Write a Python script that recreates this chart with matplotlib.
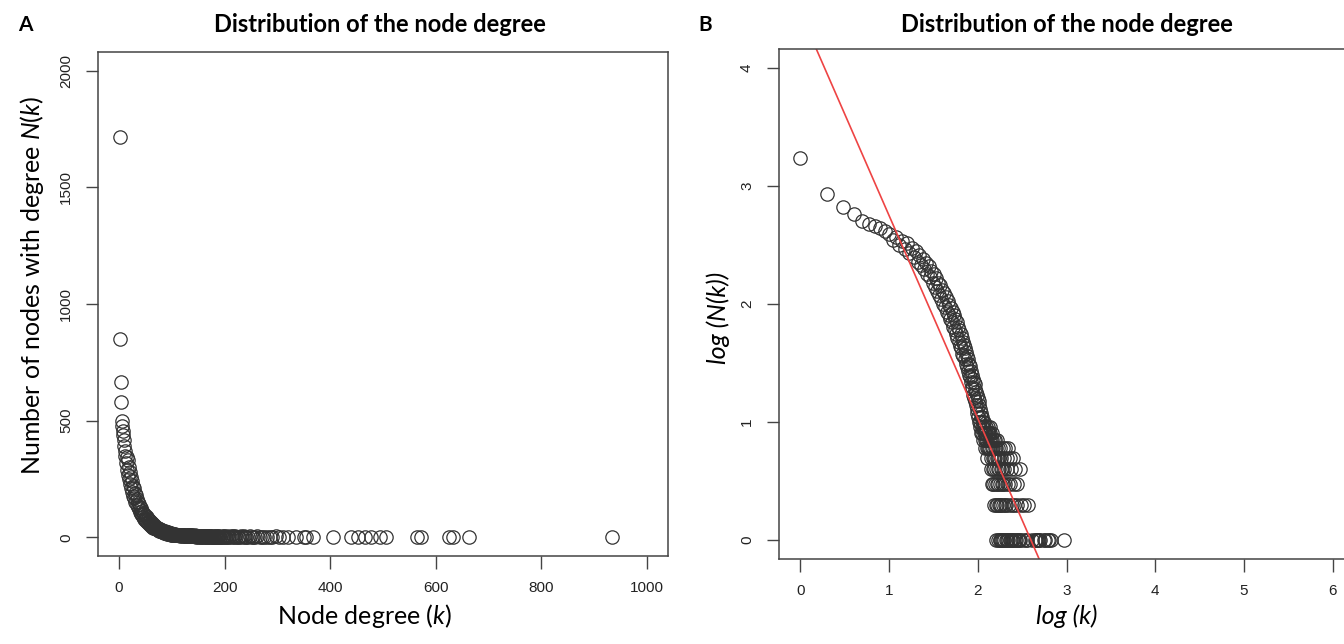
"""Node-degree distribution, linear (A) and log-log (B) panels, R base-graphics look."""
import numpy as np
import matplotlib

matplotlib.use("Agg")
import matplotlib.pyplot as plt

plt.rcParams["mathtext.fontset"] = "custom"
plt.rcParams["mathtext.rm"] = "Lato"
plt.rcParams["mathtext.it"] = "Lato:italic"

HEAD_K = [1, 2, 3, 4, 5, 6, 7, 8, 9, 10,
          11, 12, 13, 14, 15, 16, 17, 18, 19, 20,
          21, 22, 23, 24, 25, 26, 27, 28, 29, 30,
          31, 32, 33, 34, 35, 36, 37, 38, 39, 40,
          41, 42, 43, 44, 45, 46, 47, 48, 49, 50,
          51, 52, 53, 54, 55, 56, 57, 58, 59, 60,
          61, 62, 63, 64, 65, 66, 67, 68, 69, 70,
          71, 72, 73, 74, 75, 76, 77, 78, 79, 80,
          81, 82, 83, 84, 85, 86, 87, 88, 89, 90,
          91, 92, 93, 94, 95, 96, 97, 98, 99, 100,
          101, 102, 103, 104, 105, 106, 107, 108, 109, 110,
          111, 112, 113, 114, 115, 116, 117, 118, 119, 120,
          121, 122, 123, 124, 125, 126, 127, 128, 129, 130]
HEAD_N = [1714, 850, 665, 580, 500, 478, 455, 440, 415, 390,
          350, 372, 318, 345, 290, 330, 268, 300, 250, 282,
          228, 258, 212, 240, 196, 222, 178, 210, 168, 192,
          150, 180, 140, 166, 128, 152, 120, 144, 110, 132,
          100, 124, 94, 114, 86, 106, 80, 98, 74, 92,
          70, 86, 64, 80, 60, 74, 56, 70, 52, 64,
          48, 60, 44, 56, 42, 52, 38, 48, 36, 45,
          34, 42, 31, 39, 29, 36, 27, 34, 25, 31,
          24, 30, 22, 27, 20, 25, 19, 23, 17, 22,
          16, 21, 15, 19, 14, 18, 13, 17, 12, 16,
          11, 15, 10, 14, 9, 13, 10, 12, 8, 11,
          9, 11, 8, 10, 9, 7, 10, 8, 9, 7,
          8, 6, 9, 7, 8, 6, 7, 5, 8, 6]

# sparse tail: degrees observed with a given small count
TAIL_N9 = [132, 137]
TAIL_N8 = [131, 134, 139, 143]
TAIL_N7 = [133, 136, 141, 146, 152, 158, 165]
TAIL_N6 = [135, 138, 144, 149, 155, 162, 170, 178, 190, 205, 220]
TAIL_N5 = [140, 147, 151, 157, 163, 168, 175, 183, 196, 212, 230, 248]
TAIL_N4 = [142, 148, 154, 160, 167, 173, 181, 188, 199, 215, 236, 262, 298]
TAIL_N3 = [145, 150, 156, 164, 171, 177, 186, 194, 203, 218, 233, 254, 275]
TAIL_N2 = [153, 159, 166, 174, 180, 185, 192, 201, 209, 226, 240, 258, 280,
           310, 335, 368]
TAIL_N1 = [161, 169, 176, 179, 184, 187, 191, 197, 207, 214, 222, 228, 238,
           245, 252, 266, 271, 285, 290, 302, 320, 350, 355, 405, 440, 452,
           465, 478, 495, 505, 565, 572, 625, 633, 662, 934]

# fitted power-law line in panel B: log N = a + b log k
FIT_A = 4.47
FIT_B = -1.72

tails = [(9, TAIL_N9), (8, TAIL_N8), (7, TAIL_N7), (6, TAIL_N6), (5, TAIL_N5),
         (4, TAIL_N4), (3, TAIL_N3), (2, TAIL_N2), (1, TAIL_N1)]
k = np.array(HEAD_K + [d for _, ds in tails for d in ds], dtype=float)
n = np.array(HEAD_N + [c for c, ds in tails for _ in ds], dtype=float)

W, H = 1344, 644
fig = plt.figure(figsize=(W / 100, H / 100), dpi=100)


def px_axes(l, t, r, b):
    return fig.add_axes([l / W, 1 - b / H, (r - l) / W, (b - t) / H])


def r_style(ax):
    for s in ax.spines.values():
        s.set_color("#444444")
        s.set_linewidth(1.1)
    ax.tick_params(direction="out", length=9, width=1.0, color="#444444",
                   labelsize=11, labelcolor="#222222", pad=9)
    for lab in ax.get_yticklabels():
        lab.set_rotation(90)
        lab.set_va("center")
    for lab in ax.get_xticklabels() + ax.get_yticklabels():
        lab.set_fontfamily("Liberation Sans")


mk = dict(ls="none", marker="o", ms=9.6, mfc="none", mec="#333333", mew=0.9)

# panel A: linear axes
axA = px_axes(98, 52, 668, 556)
axA.plot(k, n, **mk)
axA.set_xlim(-40, 1040)
axA.set_ylim(-80, 2080)
axA.set_xticks([0, 200, 400, 600, 800, 1000])
axA.set_yticks([0, 500, 1000, 1500, 2000])
r_style(axA)

# panel B: log10 of both
axB = px_axes(779, 49, 1354, 559)
axB.plot(np.log10(k), np.log10(n), **mk)
axB.axline((0, FIT_A), slope=FIT_B, color="#ee4444", lw=1.2)
axB.set_xlim(-0.24, 6.24)
axB.set_ylim(-0.16, 4.16)
axB.set_xticks([0, 1, 2, 3, 4, 5, 6])
axB.set_yticks([0, 1, 2, 3, 4])
r_style(axB)

big = dict(fontfamily="Lato", color="black")
fig.text(25 / W, 1 - 25 / H, "A", fontsize=15, fontweight="bold", ha="center", va="center", **big)
fig.text(705 / W, 1 - 25 / H, "B", fontsize=15, fontweight="bold", ha="center", va="center", **big)
fig.text(380 / W, 1 - 25 / H, "Distribution of the node degree", fontsize=17,
         fontweight="bold", ha="center", va="center", **big)
fig.text(1067 / W, 1 - 25 / H, "Distribution of the node degree", fontsize=17,
         fontweight="bold", ha="center", va="center", **big)
fig.text(365 / W, 1 - 616 / H, r"Node degree $\mathit{(k)}$", fontsize=18,
         ha="center", va="center", **big)
fig.text(1067 / W, 1 - 616 / H, "log (k)", fontsize=18, fontstyle="italic",
         ha="center", va="center", **big)
fig.text(32 / W, 1 - 285 / H, r"Number of nodes with degree $\mathit{N(k)}$", fontsize=18,
         rotation=90, ha="center", va="center", **big)
fig.text(718 / W, 1 - 318 / H, "log (N(k))", fontsize=18, fontstyle="italic",
         rotation=90, ha="center", va="center", **big)

fig.savefig("out.png", dpi=100)
